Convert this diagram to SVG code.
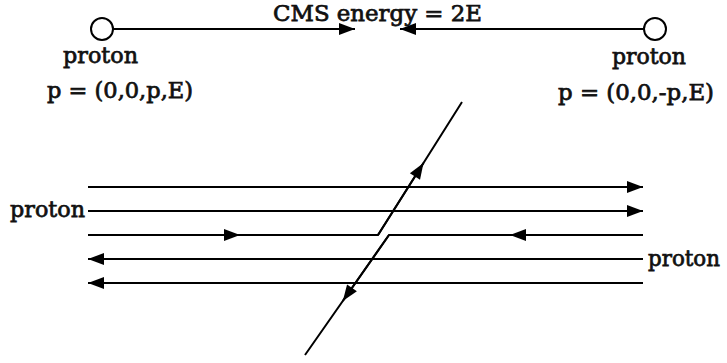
<svg xmlns="http://www.w3.org/2000/svg" width="727" height="363" viewBox="0 0 727 363">
<style>
text{font-family:"DejaVu Serif","Liberation Serif",serif;font-size:22.5px;fill:#111;stroke:#111;stroke-width:0.75px}
.l{stroke:#000;stroke-width:2;fill:none}
.a{marker-end:url(#ah)}
circle{fill:#fff;stroke:#000;stroke-width:2}
</style>
<defs>
<marker id="ah" markerUnits="userSpaceOnUse" markerWidth="17" markerHeight="13" refX="16" refY="6" orient="auto" viewBox="0 0 17 13" overflow="visible">
<path d="M0,0 L16,6 L0,12 z" fill="#000"/>
</marker>
</defs>
<g id="connectors">
<path class="l a" d="M113,29 L355,29"/>
<path class="l a" d="M644,29 L400,29"/>
<path class="l a" d="M88,187 L643,187"/>
<path class="l a" d="M88,211 L643,211"/>
<path class="l a" d="M88,235 L240,235"/>
<path class="l" d="M238,235 L378,235 L462,102"/>
<path class="l a" d="M378,235 L423.5,163"/>
<path class="l a" d="M643,235 L510,235"/>
<path class="l" d="M512,235 L389,235 L305,355"/>
<path class="l a" d="M389,235 L342.8,301"/>
<path class="l a" d="M643,259 L88,259"/>
<path class="l a" d="M643,283 L88,283"/>
</g>
<g id="title"><text x="273" y="21" textLength="209" lengthAdjust="spacingAndGlyphs">CMS energy = 2E</text></g>
<g id="protonLeft">
<circle cx="102" cy="29" r="11"/>
<text x="63" y="63" textLength="75" lengthAdjust="spacingAndGlyphs">proton</text>
<text x="47" y="98" textLength="146" lengthAdjust="spacingAndGlyphs">p = (0,0,p,E)</text>
</g>
<g id="protonRight">
<circle cx="655" cy="29" r="11"/>
<text x="612" y="64" textLength="74" lengthAdjust="spacingAndGlyphs">proton</text>
<text x="558" y="100" textLength="156" lengthAdjust="spacingAndGlyphs">p = (0,0,-p,E)</text>
</g>
<g id="beamLeft"><text x="10" y="217" textLength="75" lengthAdjust="spacingAndGlyphs">proton</text></g>
<g id="beamRight"><text x="648" y="266" textLength="72" lengthAdjust="spacingAndGlyphs">proton</text></g>
</svg>
